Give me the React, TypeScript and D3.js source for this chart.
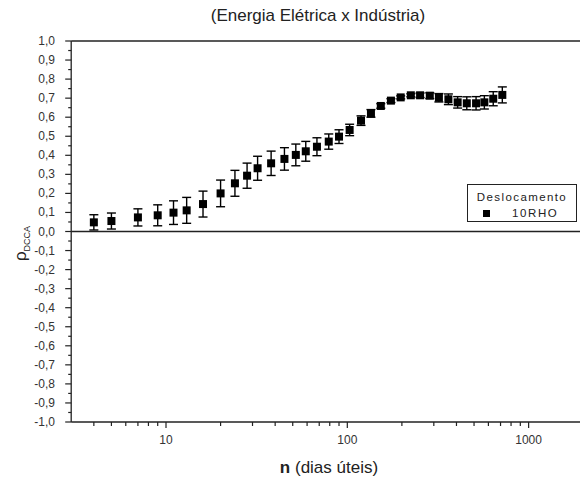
import React from "react";
import * as d3 from "d3";

const nValues = [4, 5, 7, 9, 11, 13, 16, 20, 24, 28, 32, 38, 45, 52, 59, 68, 79, 90, 103, 119, 135, 153, 174, 197, 224, 252, 285, 320, 361, 406, 456, 513, 570, 638, 716];
const rhoValues = [0.048, 0.055, 0.074, 0.085, 0.099, 0.111, 0.144, 0.2, 0.253, 0.293, 0.332, 0.358, 0.381, 0.402, 0.421, 0.445, 0.472, 0.498, 0.533, 0.582, 0.62, 0.659, 0.687, 0.704, 0.715, 0.715, 0.713, 0.702, 0.694, 0.678, 0.673, 0.673, 0.678, 0.697, 0.717];
const errValues = [0.04, 0.042, 0.045, 0.055, 0.062, 0.068, 0.068, 0.07, 0.068, 0.066, 0.063, 0.064, 0.059, 0.057, 0.052, 0.047, 0.04, 0.036, 0.03, 0.025, 0.02, 0.012, 0.01, 0.008, 0.008, 0.012, 0.015, 0.022, 0.028, 0.03, 0.034, 0.035, 0.035, 0.037, 0.042];
const xMajorTicks = [10, 100, 1000];
const yTickValues = d3.range(-10, 11).map((v) => v / 10);
const yMinorValues = d3.range(-19, 20, 2).map((v) => v / 20);

const W = 580;
const H = 485;
const FONT = "Arial, 'Liberation Sans', sans-serif";

export default function App() {
  const x = d3.scaleLog().domain([3, 2000]).range([71.2, 583.2]);
  const y = d3.scaleLinear().domain([-1, 1]).range([422, 41]);
  const left = x(3);
  const right = W;

  const xMinor: number[] = [];
  [1, 10, 100, 1000].forEach((dec) => {
    for (let k = 2; k <= 9; k++) {
      const v = dec * k;
      if (v > 3 && v <= 2000) xMinor.push(v);
    }
  });

  const fmt = (v: number) => v.toFixed(1).replace(".", ",");
  const axisColor = "#222";
  const labelColor = "#333";

  return (
    <svg width={W} height={H} style={{ position: "absolute", left: 0, top: 0, background: "#fff" }} fontFamily={FONT}>
      <rect x={0} y={0} width={W} height={H} fill="#fff" />
      {/* title */}
      <text x={318} y={21} textAnchor="middle" fontSize={17} fill="#222">(Energia Elétrica x Indústria)</text>

      {/* frame lines */}
      <line x1={left} x2={right} y1={y(1)} y2={y(1)} stroke={axisColor} strokeWidth={1.3} />
      <line x1={left} x2={right} y1={y(-1)} y2={y(-1)} stroke={axisColor} strokeWidth={1.3} />
      <line x1={left} x2={right} y1={y(0)} y2={y(0)} stroke={axisColor} strokeWidth={1.3} />
      <line x1={left} x2={left} y1={y(1)} y2={y(-1)} stroke={axisColor} strokeWidth={1.3} />

      {/* y ticks */}
      {yTickValues.map((v) => (
        <g key={"yt" + v}>
          <line x1={left - 6} x2={left} y1={y(v)} y2={y(v)} stroke={axisColor} strokeWidth={1.2} />
          <text x={55} y={y(v) + 4} textAnchor="end" fontSize={12} fill={labelColor}>{fmt(v)}</text>
        </g>
      ))}
      {yMinorValues.map((v) => (
        <line key={"ym" + v} x1={left - 3} x2={left} y1={y(v)} y2={y(v)} stroke={axisColor} strokeWidth={1.2} />
      ))}

      {/* x ticks */}
      {xMajorTicks.map((v) => (
        <g key={"xt" + v}>
          <line x1={x(v)} x2={x(v)} y1={y(-1)} y2={y(-1) + 6} stroke={axisColor} strokeWidth={1.2} />
          <text x={x(v)} y={y(-1) + 22} textAnchor="middle" fontSize={12} fill={labelColor}>{v}</text>
        </g>
      ))}
      {xMinor.map((v) => (
        <line key={"xm" + v} x1={x(v)} x2={x(v)} y1={y(-1)} y2={y(-1) + 4} stroke={axisColor} strokeWidth={1.2} />
      ))}

      {/* axis titles */}
      <text x={329} y={473} textAnchor="middle" fontSize={17} fill="#222">
        <tspan fontWeight="bold">n</tspan>
        <tspan> (dias úteis)</tspan>
      </text>
      <text transform={`translate(26,${y(0) + 12}) rotate(-90)`} textAnchor="middle" fontSize={17} fill="#222">
        <tspan>ρ</tspan>
        <tspan fontSize={9} dy={4}>DCCA</tspan>
      </text>

      {/* data */}
      {nValues.map((n, i) => {
        const cx = x(n);
        const cy = y(rhoValues[i]);
        const yt = y(rhoValues[i] + errValues[i]);
        const yb = y(rhoValues[i] - errValues[i]);
        return (
          <g key={"p" + i}>
            <line x1={cx} x2={cx} y1={yt} y2={yb} stroke="#000" strokeWidth={1.4} />
            <line x1={cx - 4.5} x2={cx + 4.5} y1={yt} y2={yt} stroke="#000" strokeWidth={1.4} />
            <line x1={cx - 4.5} x2={cx + 4.5} y1={yb} y2={yb} stroke="#000" strokeWidth={1.4} />
            <rect x={cx - 4} y={cy - 4} width={8} height={8} fill="#000" />
          </g>
        );
      })}

      {/* legend */}
      <rect x={467.5} y={184.5} width={109} height={37} fill="#fff" stroke={axisColor} strokeWidth={1} />
      <text x={522} y={201} textAnchor="middle" fontSize={11.5} letterSpacing={1.4} fill="#222">Deslocamento</text>
      <rect x={483} y={210} width={7} height={7} fill="#000" />
      <text x={512} y={217} fontSize={11.5} letterSpacing={1.6} fill="#222">10RHO</text>
    </svg>
  );
}
